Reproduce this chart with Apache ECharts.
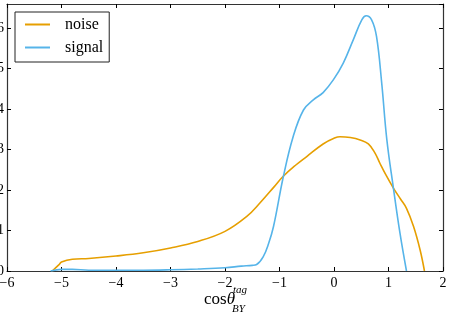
<!DOCTYPE html>
<html>
<head>
<meta charset="utf-8">
<script src="https://cdn.jsdelivr.net/npm/echarts@6/dist/echarts.min.js"></script>
<style>
  html, body { margin: 0; padding: 0; background: #fff; }
  #chart { width: 451px; height: 320px; }
</style>
</head>
<body>
<div id="chart"></div>
<script>
// 数据
const noiseX = [-5.17, -5.05, -5.0, -4.8, -4.5, -4.0, -3.5, -3.0, -2.5, -2.0, -1.6, -1.36, -1.1, -0.94, -0.7, -0.5, -0.2, 0.0, 0.11, 0.3, 0.48, 0.63, 0.75, 0.84, 0.95, 1.09, 1.22, 1.33, 1.46, 1.58, 1.66]
const noiseY = [0.0, 0.015, 0.022, 0.029, 0.031, 0.037, 0.045, 0.057, 0.073, 0.098, 0.135, 0.168, 0.208, 0.233, 0.262, 0.283, 0.314, 0.328, 0.332, 0.330, 0.324, 0.314, 0.292, 0.267, 0.238, 0.205, 0.178, 0.155, 0.110, 0.052, 0.0]
const signalX = [-5.2, -5.0, -4.8, -4.5, -4.0, -3.5, -3.0, -2.5, -2.0, -1.7, -1.5, -1.42, -1.3, -1.2, -1.11, -0.93, -0.75, -0.56, -0.38, -0.2, -0.01, 0.17, 0.355, 0.51, 0.59, 0.69, 0.78, 0.875, 0.97, 1.09, 1.21, 1.33]
const signalY = [0.0, 0.004, 0.004, 0.002, 0.002, 0.002, 0.003, 0.005, 0.008, 0.012, 0.014, 0.016, 0.035, 0.068, 0.11, 0.233, 0.332, 0.398, 0.423, 0.441, 0.473, 0.514, 0.572, 0.621, 0.631, 0.621, 0.58, 0.465, 0.324, 0.205, 0.094, 0.0]
const xTicks = [-6, -5, -4, -3, -2, -1, 0, 1, 2]
const yTicks = [0.0, 0.1, 0.2, 0.3, 0.4, 0.5, 0.6]

const FONT = "Liberation Serif"
const pair = (xs, ys) => xs.map((x, i) => [x, ys[i]])
const minus = (v) => String(v).replace("-", "\u2212")
const isTick = (list, v) => list.some((t) => Math.abs(t - v) < 1e-6)

const chart = echarts.init(document.getElementById("chart"))

const tickStyle = { show: true, inside: true, length: 4, lineStyle: { color: "#000", width: 1 } }
const lineAxis = { show: true, onZero: false, lineStyle: { color: "#333", width: 1.2 } }

const option = {
  animation: false,
  grid: { left: 7, right: 8, top: 4, bottom: 49, containLabel: false, outerBoundsMode: "none" },
  legend: {
    data: ["noise", "signal"],
    orient: "vertical",
    left: 15,
    top: 12,
    icon: "rect",
    itemWidth: 25,
    itemHeight: 2,
    itemGap: 6,
    padding: [4, 6, 6, 10],
    borderColor: "#222",
    borderWidth: 1,
    borderRadius: 0,
    textStyle: { fontFamily: FONT, fontSize: 16, color: "#000", padding: [0, 0, 0, 10], lineHeight: 17 }
  },
  xAxis: [
    {
      type: "value", min: -6, max: 2, interval: 1,
      axisLine: lineAxis, axisTick: tickStyle, splitLine: { show: false },
      axisLabel: {
        fontFamily: FONT, fontSize: 14, color: "#000", margin: 5,
        formatter: (v) => (isTick(xTicks, v) ? minus(v) : "")
      }
    },
    {
      type: "value", position: "top", min: -6, max: 2, interval: 1,
      axisLine: lineAxis, axisTick: tickStyle, splitLine: { show: false }, axisLabel: { show: false }
    }
  ],
  yAxis: [
    {
      type: "value", min: 0, max: 0.66, interval: 0.1,
      axisLine: lineAxis, axisTick: tickStyle, splitLine: { show: false },
      axisLabel: {
        fontFamily: FONT, fontSize: 14, color: "#000", margin: 3, showMaxLabel: false,
        formatter: (v) => (isTick(yTicks, v) ? v.toFixed(1) : "")
      }
    },
    {
      type: "value", position: "right", min: 0, max: 0.66, interval: 0.1,
      axisLine: lineAxis, axisTick: tickStyle, splitLine: { show: false }, axisLabel: { show: false }
    }
  ],
  series: [
    {
      name: "noise", type: "line", data: pair(noiseX, noiseY), smooth: 0.4,
      showSymbol: false, symbol: "none", color: "#E69F00", lineStyle: { width: 1.6, color: "#E69F00" }
    },
    {
      name: "signal", type: "line", data: pair(signalX, signalY), smooth: 0.4,
      showSymbol: false, symbol: "none", color: "#56B4E9", lineStyle: { width: 1.6, color: "#56B4E9" }
    }
  ],
  // x 轴标题 cosθ_BY^tag
  graphic: [
    {
      type: "text", x: 204, y: 300,
      style: {
        text: "{n|cos}{i|\u03b8}", verticalAlign: "middle",
        rich: {
          n: { fontFamily: FONT, fontSize: 17, color: "#000" },
          i: { fontFamily: FONT, fontSize: 17, fontStyle: "italic", color: "#000" }
        }
      }
    },
    { type: "text", x: 233, y: 290, style: { text: "tag", fontFamily: FONT, fontStyle: "italic", fontSize: 11, fill: "#000", verticalAlign: "middle" } },
    { type: "text", x: 232, y: 309, style: { text: "BY", fontFamily: FONT, fontStyle: "italic", fontSize: 11, fill: "#000", verticalAlign: "middle" } }
  ]
}

chart.setOption(option)
window.addEventListener("resize", () => chart.resize())
</script>
</body>
</html>
